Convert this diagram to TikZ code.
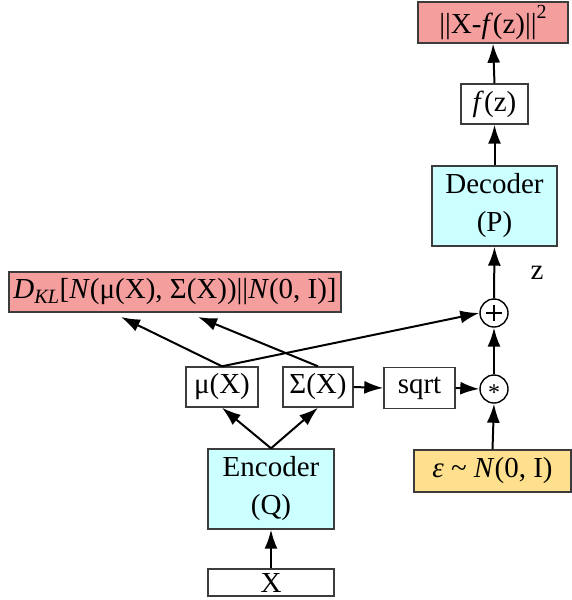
\documentclass[tikz,border=0pt]{standalone}
\usepackage{fontspec}
\setmainfont{Liberation Serif}
\usetikzlibrary{arrows.meta,calc}
\definecolor{pinkc}{RGB}{245,158,158}
\definecolor{cyanc}{RGB}{204,255,255}
\definecolor{yellowc}{RGB}{255,224,142}
\definecolor{edgec}{RGB}{60,60,60}
\tikzset{
  box/.style={draw=edgec, line width=1.4pt, inner sep=0pt, align=center,
    font=\fontsize{29}{38}\selectfont},
  opc/.style={draw=black, circle, line width=1.4pt, minimum size=28pt, inner sep=0pt},
  arr/.style={line width=2pt, -{Latex[length=19pt,width=13pt]}},
}
\begin{document}
\begin{tikzpicture}[x=1pt,y=-1pt]
\useasboundingbox (0,0) rectangle (572,600);
\node[box, fill=pinkc, minimum width=150pt, minimum height=41pt] (loss) at (493,22.5)
  {||X-\textit{f}(z)||\raisebox{0.55em}{\fontsize{20}{20}\selectfont 2}};
\node[box, minimum width=67pt, minimum height=40pt] (fz) at (494.5,104) {\textit{f}(z)};
\node[box, fill=cyanc, minimum width=125pt, minimum height=80pt] (dec) at (494.5,206) {Decoder\\(P)};
\node[font=\fontsize{29}{34}\selectfont, inner sep=0pt] (zl) at (537,273) {z};
\node[opc] (plus) at (494,313) {};
\draw[line width=1.1pt] ($(plus.center)+(-8,0)$) -- ($(plus.center)+(8,0)$);
\draw[line width=1.1pt] ($(plus.center)+(0,-8)$) -- ($(plus.center)+(0,8)$);
\node[box, fill=pinkc, minimum width=332pt, minimum height=40pt] (dkl) at (175,292)
  {\textit{D\textsubscript{KL}}[\textit{N}(μ(X), Σ(X))||\textit{N}(0, I)]};
\node[box, minimum width=72pt, minimum height=40pt] (mu) at (222,387) {μ(X)};
\node[box, minimum width=70pt, minimum height=40pt] (sig) at (318,387) {Σ(X)};
\node[box, minimum width=71pt, minimum height=41pt] (sqrt) at (419.5,388) {sqrt};
\node[opc] (star) at (494,389) {};
\node[font=\fontsize{24}{28}\selectfont, inner sep=0pt] at ($(star.center)+(0,4)$) {*};
\node[box, fill=yellowc, minimum width=157pt, minimum height=42pt] (eps) at (492.5,471)
  {\textit{ε} \textasciitilde{} \textit{N}(0, I)};
\node[box, fill=cyanc, minimum width=126pt, minimum height=80pt] (enc) at (271,489) {Encoder\\(Q)};
\node[box, minimum width=126pt, minimum height=27pt] (x) at (271,582.5) {X};

\coordinate (dkla) at (121,317);
\coordinate (dklb) at (198,317);
\draw[arr] (x.north) -- (enc.south);
\draw[arr] (enc.north) -- (mu.south);
\draw[arr] (enc.north) -- (sig.south);
\draw[arr] (mu.north) -- (dkla);
\draw[arr] (sig.north) -- (dklb);
\draw[arr] (mu.north) -- (plus.west);
\draw[arr] (sig.east) -- (sqrt.west);
\draw[arr] (sqrt.east) -- (star.west);
\draw[arr] (eps.north) -- (star.south);
\draw[arr] (star.north) -- (plus.south);
\draw[arr] (plus.north) -- (dec.south);
\draw[arr] (dec.north) -- (fz.south);
\draw[arr] (fz.north) -- (loss.south);
\end{tikzpicture}
\end{document}
